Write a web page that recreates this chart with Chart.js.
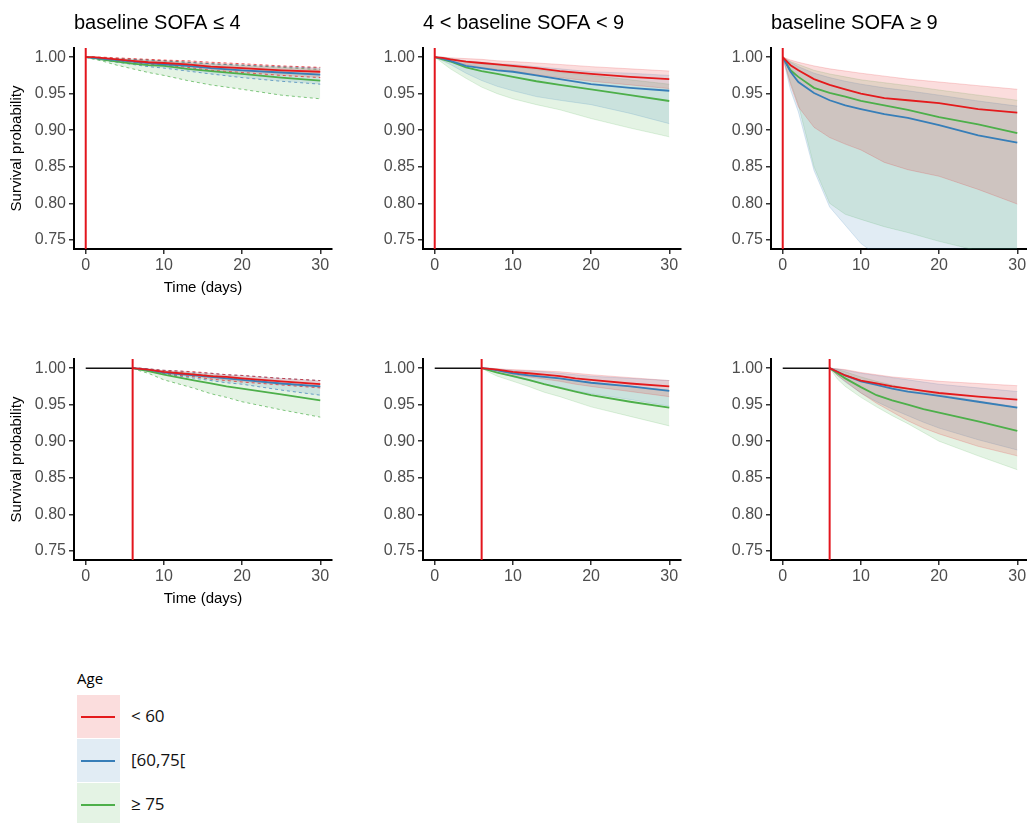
<!DOCTYPE html>
<html>
<head>
<meta charset="utf-8">
<title>Survival probability by age and baseline SOFA</title>
<script src="https://cdn.jsdelivr.net/npm/chart.js"></script>
<style>
    body {
        margin: 0;
        background: #fff;
        width: 1027px;
        height: 823px;
        overflow: hidden;
        position: relative;
        font-family: "Liberation Sans", Arial, sans-serif;
    }
    canvas { position: absolute; }
    #legend {
        position: absolute;
        left: 77px;
        top: 668px;
        font-family: "Open Sans", sans-serif;
    }
    #legend .ltitle { font-size: 15px; color: #000; height: 27px; line-height: 20px; }
    #legend .row { position: relative; height: 44px; }
    #legend .key { position: absolute; left: 0; top: 0; width: 43px; height: 43px; }
    #legend .key span { position: absolute; left: 4px; right: 5px; top: 21px; height: 2px; }
    #legend .lab { position: absolute; left: 54px; top: 9px; font-size: 17px; color: #111; white-space: nowrap; }
</style>
</head>
<body>
<canvas id="c1" width="350" height="301" style="left:-11px; top:0px"></canvas>
<canvas id="c2" width="350" height="301" style="left:338px; top:0px"></canvas>
<canvas id="c3" width="350" height="301" style="left:686px; top:0px"></canvas>
<canvas id="c4" width="350" height="301" style="left:-11px; top:311px"></canvas>
<canvas id="c5" width="350" height="301" style="left:338px; top:311px"></canvas>
<canvas id="c6" width="350" height="301" style="left:686px; top:311px"></canvas>
<div id="legend"></div>

<script>
// ---- data ----
const ageGroups = ['< 60', '[60,75[', '\u2265 75'];
const panelTitles = ['baseline SOFA \u2264 4', '4 < baseline SOFA < 9', 'baseline SOFA \u2265 9'];
const xTicks = [0, 10, 20, 30];
const yTicks = [0.75, 0.80, 0.85, 0.90, 0.95, 1.00];
const landmarkDays = [0, 6];            // top row: day 0, bottom row: day 6

const daysTop = [0, 1, 2, 4, 6, 8, 10, 13, 16, 20, 25, 30];
const daysBottom = [6, 7, 8, 10, 12, 14, 16, 18, 20, 25, 30];

// top row, SOFA <= 4
const t1_lt60    = [1, 1.000, 0.999, 0.997, 0.995, 0.993, 0.992, 0.990, 0.987, 0.985, 0.982, 0.980];
const t1_lt60_lo = [1, 0.999, 0.998, 0.995, 0.993, 0.990, 0.989, 0.986, 0.982, 0.979, 0.975, 0.972];
const t1_lt60_hi = [1, 1.000, 1.000, 0.999, 0.998, 0.997, 0.996, 0.995, 0.993, 0.991, 0.988, 0.986];
const t1_mid     = [1, 0.999, 0.998, 0.996, 0.994, 0.992, 0.990, 0.988, 0.985, 0.982, 0.979, 0.976];
const t1_mid_lo  = [1, 0.998, 0.996, 0.993, 0.990, 0.987, 0.985, 0.981, 0.977, 0.972, 0.967, 0.963];
const t1_mid_hi  = [1, 1.000, 0.999, 0.998, 0.997, 0.996, 0.995, 0.993, 0.991, 0.989, 0.987, 0.985];
const t1_ge75    = [1, 0.999, 0.997, 0.994, 0.991, 0.989, 0.988, 0.984, 0.981, 0.977, 0.972, 0.968];
const t1_ge75_lo = [1, 0.997, 0.995, 0.989, 0.984, 0.979, 0.975, 0.968, 0.962, 0.956, 0.948, 0.943];
const t1_ge75_hi = [1, 1.000, 0.999, 0.998, 0.997, 0.996, 0.995, 0.993, 0.991, 0.989, 0.986, 0.983];

// top row, 4 < SOFA < 9
const t2_lt60    = [1, 0.999, 0.997, 0.994, 0.992, 0.990, 0.988, 0.985, 0.981, 0.977, 0.973, 0.970];
const t2_lt60_lo = [1, 0.998, 0.995, 0.990, 0.986, 0.983, 0.981, 0.976, 0.972, 0.967, 0.962, 0.957];
const t2_lt60_hi = [1, 1.000, 0.999, 0.998, 0.997, 0.995, 0.994, 0.992, 0.990, 0.987, 0.984, 0.981];
const t2_mid     = [1, 0.998, 0.995, 0.988, 0.985, 0.982, 0.980, 0.975, 0.970, 0.963, 0.958, 0.954];
const t2_mid_lo  = [1, 0.995, 0.990, 0.978, 0.968, 0.960, 0.954, 0.946, 0.941, 0.935, 0.923, 0.909];
const t2_mid_hi  = [1, 1.000, 0.998, 0.995, 0.993, 0.991, 0.990, 0.987, 0.984, 0.980, 0.978, 0.975];
const t2_ge75    = [1, 0.997, 0.994, 0.986, 0.981, 0.977, 0.973, 0.967, 0.962, 0.956, 0.948, 0.940];
const t2_ge75_lo = [1, 0.992, 0.984, 0.971, 0.959, 0.950, 0.943, 0.935, 0.928, 0.916, 0.903, 0.891];
const t2_ge75_hi = [1, 0.999, 0.998, 0.994, 0.991, 0.989, 0.987, 0.983, 0.979, 0.975, 0.969, 0.963];

// top row, SOFA >= 9
const t3_lt60    = [1, 0.989, 0.982, 0.970, 0.962, 0.956, 0.950, 0.944, 0.941, 0.937, 0.929, 0.924];
const t3_lt60_lo = [1, 0.962, 0.932, 0.904, 0.890, 0.881, 0.873, 0.856, 0.846, 0.837, 0.819, 0.799];
const t3_lt60_hi = [1, 0.996, 0.993, 0.988, 0.984, 0.981, 0.978, 0.974, 0.970, 0.966, 0.961, 0.956];
const t3_mid     = [1, 0.980, 0.966, 0.951, 0.941, 0.934, 0.929, 0.922, 0.917, 0.907, 0.893, 0.883];
const t3_mid_lo  = [1, 0.955, 0.925, 0.845, 0.795, 0.770, 0.745, 0.722, 0.705, 0.685, 0.660, 0.640];
const t3_mid_hi  = [1, 0.993, 0.987, 0.978, 0.972, 0.967, 0.963, 0.958, 0.954, 0.948, 0.940, 0.933];
const t3_ge75    = [1, 0.982, 0.973, 0.958, 0.951, 0.946, 0.940, 0.934, 0.928, 0.918, 0.908, 0.896];
const t3_ge75_lo = [1, 0.965, 0.935, 0.850, 0.800, 0.785, 0.778, 0.768, 0.760, 0.748, 0.735, 0.725];
const t3_ge75_hi = [1, 0.994, 0.990, 0.982, 0.977, 0.973, 0.969, 0.965, 0.961, 0.955, 0.948, 0.941];

// bottom row, SOFA <= 4
const b1_lt60    = [1, 0.999, 0.998, 0.995, 0.993, 0.991, 0.989, 0.988, 0.986, 0.982, 0.978];
const b1_lt60_lo = [1, 0.998, 0.997, 0.993, 0.990, 0.988, 0.985, 0.983, 0.981, 0.977, 0.973];
const b1_lt60_hi = [1, 1.000, 0.999, 0.997, 0.996, 0.995, 0.993, 0.991, 0.990, 0.986, 0.983];
const b1_mid     = [1, 0.999, 0.998, 0.994, 0.992, 0.990, 0.988, 0.986, 0.984, 0.979, 0.975];
const b1_mid_lo  = [1, 0.998, 0.996, 0.992, 0.989, 0.986, 0.983, 0.980, 0.978, 0.970, 0.963];
const b1_mid_hi  = [1, 1.000, 0.999, 0.997, 0.996, 0.994, 0.993, 0.991, 0.990, 0.986, 0.983];
const b1_ge75    = [1, 0.998, 0.996, 0.991, 0.987, 0.983, 0.979, 0.975, 0.972, 0.964, 0.956];
const b1_ge75_lo = [1, 0.996, 0.993, 0.984, 0.978, 0.972, 0.965, 0.960, 0.954, 0.943, 0.933];
const b1_ge75_hi = [1, 0.999, 0.998, 0.996, 0.994, 0.992, 0.990, 0.987, 0.985, 0.979, 0.975];

// bottom row, 4 < SOFA < 9
const b2_lt60    = [1, 0.999, 0.998, 0.995, 0.993, 0.991, 0.989, 0.986, 0.984, 0.979, 0.975];
const b2_lt60_lo = [1, 0.998, 0.996, 0.991, 0.988, 0.985, 0.982, 0.978, 0.975, 0.968, 0.961];
const b2_lt60_hi = [1, 1.000, 0.999, 0.998, 0.997, 0.996, 0.995, 0.993, 0.991, 0.987, 0.983];
const b2_mid     = [1, 0.999, 0.997, 0.993, 0.990, 0.988, 0.986, 0.983, 0.980, 0.975, 0.969];
const b2_mid_lo  = [1, 0.997, 0.994, 0.988, 0.983, 0.978, 0.974, 0.969, 0.965, 0.957, 0.948];
const b2_mid_hi  = [1, 1.000, 0.999, 0.997, 0.996, 0.995, 0.993, 0.991, 0.989, 0.986, 0.983];
const b2_ge75    = [1, 0.997, 0.994, 0.989, 0.984, 0.978, 0.973, 0.968, 0.963, 0.954, 0.946];
const b2_ge75_lo = [1, 0.994, 0.989, 0.982, 0.975, 0.967, 0.961, 0.954, 0.947, 0.934, 0.921];
const b2_ge75_hi = [1, 0.999, 0.998, 0.995, 0.992, 0.989, 0.986, 0.983, 0.980, 0.975, 0.970];

// bottom row, SOFA >= 9
const b3_lt60    = [1, 0.995, 0.990, 0.983, 0.979, 0.975, 0.972, 0.969, 0.966, 0.961, 0.957];
const b3_lt60_lo = [1, 0.990, 0.982, 0.966, 0.952, 0.940, 0.928, 0.918, 0.910, 0.893, 0.880];
const b3_lt60_hi = [1, 0.999, 0.998, 0.994, 0.991, 0.988, 0.986, 0.984, 0.982, 0.979, 0.976];
const b3_mid     = [1, 0.995, 0.990, 0.982, 0.977, 0.972, 0.968, 0.965, 0.962, 0.954, 0.946];
const b3_mid_lo  = [1, 0.990, 0.981, 0.966, 0.954, 0.944, 0.935, 0.926, 0.918, 0.902, 0.888];
const b3_mid_hi  = [1, 0.999, 0.997, 0.993, 0.990, 0.987, 0.984, 0.981, 0.978, 0.973, 0.968];
const b3_ge75    = [1, 0.993, 0.986, 0.974, 0.963, 0.956, 0.950, 0.944, 0.939, 0.927, 0.914];
const b3_ge75_lo = [1, 0.985, 0.975, 0.960, 0.947, 0.935, 0.924, 0.912, 0.900, 0.880, 0.861];
const b3_ge75_hi = [1, 0.998, 0.995, 0.988, 0.982, 0.977, 0.972, 0.968, 0.964, 0.955, 0.947];

// ---- styling ----
const lineColors = ['#e41a1c', '#377eb8', '#4daf4a'];
const bandFills = ['rgba(228,26,28,0.15)', 'rgba(55,126,184,0.15)', 'rgba(77,175,74,0.15)'];
const bandEdges = ['rgba(228,26,28,0.7)', 'rgba(55,126,184,0.7)', 'rgba(77,175,74,0.7)'];
const bandEdgesFaint = ['rgba(228,26,28,0.25)', 'rgba(55,126,184,0.25)', 'rgba(77,175,74,0.25)'];
const yMin = 0.7375, yMax = 1.0125;
const FONT = '"Liberation Sans", Arial, sans-serif';

Chart.defaults.font.family = FONT;
Chart.defaults.animation = false;

function pts(days, vals) {
    return days.map((d, i) => ({ x: d, y: vals[i] }));
}

function drawPanel(id, title, days, series, landmark, dashedCI, showY, showX) {
    const datasets = [];
    // landmark line
    datasets.push({
        data: [{ x: landmark, y: yMin }, { x: landmark, y: yMax }],
        borderColor: '#e3151d', borderWidth: 2, pointRadius: 0, fill: false
    });
    if (landmark > 0) {
        datasets.push({
            data: [{ x: 0, y: 1 }, { x: landmark, y: 1 }],
            borderColor: '#111', borderWidth: 1.5, pointRadius: 0, fill: false
        });
    }
    series.forEach((s, k) => {
        datasets.push({
            data: pts(days, s[0]), borderColor: lineColors[k], borderWidth: 1.8,
            pointRadius: 0, fill: false
        });
    });
    series.forEach((s, k) => {
        datasets.push({
            data: pts(days, s[2]),
            borderColor: dashedCI ? bandEdges[k] : bandEdgesFaint[k],
            borderWidth: dashedCI ? 1 : 0.7,
            borderDash: dashedCI ? [3, 3] : [],
            pointRadius: 0, fill: false
        });
        datasets.push({
            data: pts(days, s[1]),
            borderColor: dashedCI ? bandEdges[k] : bandEdgesFaint[k],
            borderWidth: dashedCI ? 1 : 0.7,
            borderDash: dashedCI ? [3, 3] : [],
            pointRadius: 0, fill: '-1', backgroundColor: bandFills[k]
        });
    });

    const tickFont = { family: FONT, size: 16 };
    new Chart(document.getElementById(id), {
        type: 'line',
        data: { datasets: datasets },
        options: {
            responsive: false,
            devicePixelRatio: 1,
            layout: { padding: { top: title ? 0 : 48, right: 7, left: 0, bottom: 0 } },
            plugins: {
                legend: { display: false },
                tooltip: { enabled: false },
                title: {
                    display: !!title, text: title, align: 'start', fullSize: false,
                    color: '#000', font: { family: FONT, size: 20, weight: 'normal' },
                    padding: { top: 11, bottom: 13 }
                }
            },
            scales: {
                x: {
                    type: 'linear', min: -1.5, max: 31.5,
                    afterBuildTicks: a => { a.ticks = xTicks.map(v => ({ value: v })); },
                    afterFit: s => { s.height = 52; },
                    ticks: { font: tickFont, color: '#4d4d4d', padding: 2, maxRotation: 0, autoSkip: false },
                    grid: { drawOnChartArea: false, drawTicks: true, tickLength: 5, tickColor: '#333', lineWidth: 1.5 },
                    border: { display: true, color: '#000', width: 2 },
                    title: {
                        display: showX, text: 'Time (days)', color: '#000',
                        font: { family: FONT, size: 15 }, padding: { top: 0, bottom: 4 }
                    }
                },
                y: {
                    type: 'linear', min: yMin, max: yMax,
                    afterBuildTicks: a => { a.ticks = yTicks.map(v => ({ value: v })); },
                    afterFit: s => { s.width = 85; },
                    ticks: { font: tickFont, color: '#4d4d4d', padding: 3, callback: v => v.toFixed(2) },
                    grid: { drawOnChartArea: false, drawTicks: true, tickLength: 5, tickColor: '#333', lineWidth: 1.5 },
                    border: { display: true, color: '#000', width: 2 },
                    title: {
                        display: showY, text: 'Survival probability', color: '#000',
                        font: { family: FONT, size: 15 }, padding: { top: 19, bottom: 0 }
                    }
                }
            }
        }
    });
}

drawPanel('c1', panelTitles[0], daysTop,
    [[t1_lt60, t1_lt60_lo, t1_lt60_hi], [t1_mid, t1_mid_lo, t1_mid_hi], [t1_ge75, t1_ge75_lo, t1_ge75_hi]],
    landmarkDays[0], true, true, true);
drawPanel('c2', panelTitles[1], daysTop,
    [[t2_lt60, t2_lt60_lo, t2_lt60_hi], [t2_mid, t2_mid_lo, t2_mid_hi], [t2_ge75, t2_ge75_lo, t2_ge75_hi]],
    landmarkDays[0], false, false, false);
drawPanel('c3', panelTitles[2], daysTop,
    [[t3_lt60, t3_lt60_lo, t3_lt60_hi], [t3_mid, t3_mid_lo, t3_mid_hi], [t3_ge75, t3_ge75_lo, t3_ge75_hi]],
    landmarkDays[0], false, false, false);
drawPanel('c4', '', daysBottom,
    [[b1_lt60, b1_lt60_lo, b1_lt60_hi], [b1_mid, b1_mid_lo, b1_mid_hi], [b1_ge75, b1_ge75_lo, b1_ge75_hi]],
    landmarkDays[1], true, true, true);
drawPanel('c5', '', daysBottom,
    [[b2_lt60, b2_lt60_lo, b2_lt60_hi], [b2_mid, b2_mid_lo, b2_mid_hi], [b2_ge75, b2_ge75_lo, b2_ge75_hi]],
    landmarkDays[1], false, false, false);
drawPanel('c6', '', daysBottom,
    [[b3_lt60, b3_lt60_lo, b3_lt60_hi], [b3_mid, b3_mid_lo, b3_mid_hi], [b3_ge75, b3_ge75_lo, b3_ge75_hi]],
    landmarkDays[1], false, false, false);

// legend
const leg = document.getElementById('legend');
let html = '<div class="ltitle">Age</div>';
ageGroups.forEach((g, k) => {
    html += '<div class="row"><div class="key" style="background:' + bandFills[k] + '">' +
        '<span style="background:' + lineColors[k] + '"></span></div>' +
        '<div class="lab">' + g.replace('<', '&lt;') + '</div></div>';
});
leg.innerHTML = html;
</script>
</body>
</html>
